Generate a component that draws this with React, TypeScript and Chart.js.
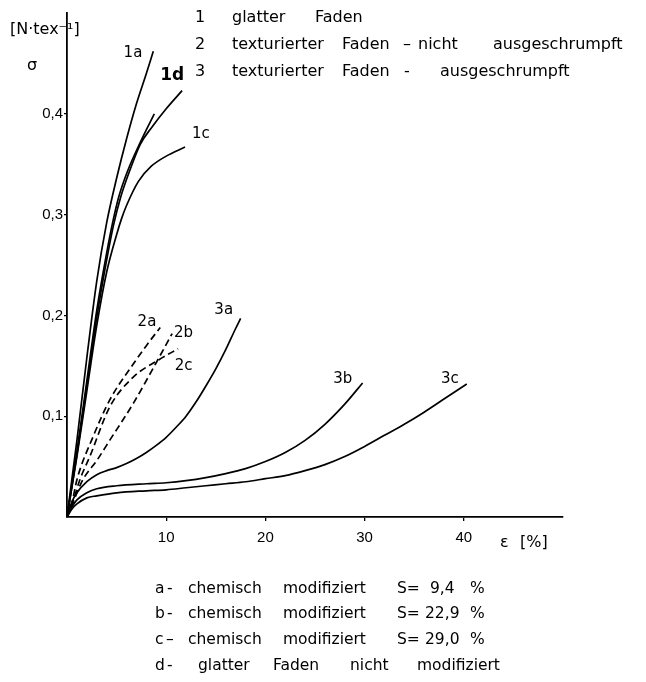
import React, { useEffect, useRef } from "react";
import { Chart, registerables } from "chart.js";

Chart.register(...registerables);

// ---- data (strain ε in %, stress σ in N·tex⁻¹) ----
const xTickValues = [10, 20, 30, 40];
const yTickValues = [0.1, 0.2, 0.3, 0.4];

const curve1a: number[][] = [[0, 0], [1, 0.076], [2, 0.158], [3, 0.234], [4, 0.292], [5, 0.336], [6, 0.375], [7, 0.41], [8, 0.44], [8.7, 0.462]];
const curve1b: number[][] = [[0, 0], [1, 0.065], [2, 0.135], [3, 0.205], [4, 0.262], [4.6, 0.292], [5.2, 0.317], [6.1, 0.343], [7.4, 0.372], [8.8, 0.4]];
const curve1d: number[][] = [[0, 0], [1, 0.062], [2, 0.13], [3, 0.198], [4, 0.255], [4.7, 0.29], [5.4, 0.317], [6.3, 0.343], [7.4, 0.37], [8.5, 0.386], [10, 0.405], [11.6, 0.423]];
const curve1c: number[][] = [[0, 0], [1, 0.06], [2, 0.125], [3, 0.19], [4, 0.243], [5, 0.28], [5.5, 0.296], [6, 0.309], [7.2, 0.333], [8.5, 0.348], [10, 0.358], [11.9, 0.367]];

const curve2a: number[][] = [[0, 0], [0.5, 0.014], [1, 0.037], [2.6, 0.079], [4.3, 0.116], [6.7, 0.152], [8, 0.17], [9.4, 0.188]];
const curve2b: number[][] = [[0, 0], [0.5, 0.012], [1.6, 0.037], [3, 0.056], [4.3, 0.076], [6.7, 0.113], [9.1, 0.155], [10.6, 0.182]];
const curve2c: number[][] = [[0, 0], [0.5, 0.012], [1.3, 0.037], [2.3, 0.06], [4.3, 0.109], [6.7, 0.139], [9.1, 0.155], [11.2, 0.167]];

const curve3a: number[][] = [[0, 0], [0.5, 0.015], [1, 0.024], [2, 0.035], [3, 0.042], [4, 0.046], [5, 0.049], [6, 0.053], [7, 0.058], [8, 0.064], [9, 0.071], [10, 0.079], [11, 0.089], [12, 0.1], [13, 0.114], [14, 0.13], [15, 0.147], [16, 0.166], [17, 0.187], [17.5, 0.197]];
const curve3b: number[][] = [[0, 0], [0.5, 0.01], [1, 0.017], [2, 0.024], [3, 0.028], [5, 0.031], [8, 0.033], [10, 0.034], [12, 0.036], [14, 0.039], [16, 0.043], [18, 0.048], [20, 0.055], [22, 0.064], [24, 0.076], [26, 0.092], [28, 0.112], [29.8, 0.133]];
const curve3c: number[][] = [[0, 0], [0.5, 0.008], [1, 0.013], [2, 0.019], [3, 0.021], [5, 0.024], [8, 0.026], [10, 0.027], [12, 0.029], [14, 0.031], [16, 0.033], [18, 0.035], [20, 0.038], [22, 0.041], [24, 0.046], [26, 0.052], [28, 0.06], [30, 0.07], [32, 0.081], [34, 0.092], [36, 0.104], [38, 0.117], [40.3, 0.132]];

const solidCurves = [curve1a, curve1b, curve1d, curve1c, curve3a, curve3b, curve3c];
const dashedCurves = [curve2a, curve2b, curve2c];

// curve labels: text and anchor in data coordinates
const curveLabelTexts = ["1a", "1d", "1c", "2a", "2b", "2c", "3a", "3b", "3c"];
const curveLabelAnchors: number[][] = [[6.65, 0.46], [10.6, 0.438], [13.5, 0.38], [8.06, 0.193], [11.75, 0.182], [11.75, 0.15], [15.8, 0.205], [27.8, 0.137], [38.6, 0.137]];

const FONT = '"DejaVu Sans", "Liberation Sans", sans-serif';
const TICK_FONT = '"Liberation Sans", "DejaVu Sans", sans-serif';

const W = 646;
const H = 682;
const AREA_LEFT = 67;
const AREA_BOTTOM = 517;

const textPlugin = {
  id: "annotText",
  afterDraw(chart: any) {
    const ctx = chart.ctx as CanvasRenderingContext2D;
    const xs = chart.scales.x;
    const ys = chart.scales.y;
    ctx.save();
    ctx.fillStyle = "#000";
    ctx.textBaseline = "middle";

    // curve labels
    curveLabelTexts.forEach((t, i) => {
      const [dx, dy] = curveLabelAnchors[i];
      const bold = t === "1d";
      ctx.font = `${bold ? "bold 17px" : "15px"} ${FONT}`;
      ctx.textAlign = "center";
      ctx.fillText(t, xs.getPixelForValue(dx), ys.getPixelForValue(dy));
    });

    // axis titles
    ctx.textAlign = "left";
    ctx.font = `16px ${FONT}`;
    ctx.fillText("[N·tex⁻¹]", 10, 30);
    ctx.fillText("σ", 27, 66);
    ctx.fillText("ε", 500, 543);
    ctx.fillText("[%]", 520, 543);

    // top legend
    const top: [string, number, number][] = [
      ["1", 195, 18], ["glatter", 232, 18], ["Faden", 315, 18],
      ["2", 195, 45], ["texturierter", 232, 45], ["Faden", 342, 45], ["–", 403, 45], ["nicht", 418, 45], ["ausgeschrumpft", 493, 45],
      ["3", 195, 72], ["texturierter", 232, 72], ["Faden", 342, 72], ["-", 404, 72], ["ausgeschrumpft", 440, 72],
    ];
    ctx.font = `16px ${FONT}`;
    top.forEach(([t, x, y]) => ctx.fillText(t, x, y));

    // bottom legend
    const bottom: [string, number, number][] = [
      ["a", 155, 589], ["-", 167, 589], ["chemisch", 188, 589], ["modifiziert", 283, 589], ["S=", 397, 589], ["9,4", 430, 589], ["%", 470, 589],
      ["b", 155, 614], ["-", 167, 614], ["chemisch", 188, 614], ["modifiziert", 283, 614], ["S=", 397, 614], ["22,9", 425, 614], ["%", 470, 614],
      ["c", 155, 640], ["–", 166, 640], ["chemisch", 188, 640], ["modifiziert", 283, 640], ["S=", 397, 640], ["29,0", 425, 640], ["%", 470, 640],
      ["d", 155, 666], ["-", 167, 666], ["glatter", 198, 666], ["Faden", 273, 666], ["nicht", 350, 666], ["modifiziert", 417, 666],
    ];
    ctx.font = `15.5px ${FONT}`;
    bottom.forEach(([t, x, y]) => ctx.fillText(t, x, y));
    ctx.restore();
  },
};

export default function App() {
  const ref = useRef<HTMLCanvasElement | null>(null);

  useEffect(() => {
    if (!ref.current) return;
    const datasets: any[] = [];
    solidCurves.forEach((c) =>
      datasets.push({
        data: c.map(([x, y]) => ({ x, y })),
        borderColor: "#000",
        borderWidth: 1.7,
        pointRadius: 0,
        cubicInterpolationMode: "monotone",
        fill: false,
      })
    );
    dashedCurves.forEach((c) =>
      datasets.push({
        data: c.map(([x, y]) => ({ x, y })),
        borderColor: "#000",
        borderWidth: 1.7,
        borderDash: [7, 4],
        pointRadius: 0,
        cubicInterpolationMode: "monotone",
        fill: false,
      })
    );

    const chart = new Chart(ref.current, {
      type: "line",
      data: { datasets },
      plugins: [textPlugin],
      options: {
        animation: false,
        responsive: false,
        layout: { padding: { top: 13, right: W - 563, left: 0, bottom: 0 } },
        plugins: { legend: { display: false }, tooltip: { enabled: false } },
        scales: {
          x: {
            type: "linear",
            min: 0,
            max: 50,
            afterBuildTicks: (s: any) => {
              s.ticks = xTickValues.map((v) => ({ value: v }));
            },
            afterFit: (s: any) => {
              s.height = H - AREA_BOTTOM;
            },
            ticks: {
              autoSkip: false,
              maxRotation: 0,
              padding: 8,
              color: "#000",
              font: { family: TICK_FONT, size: 15 },
              callback: (v: any) => String(v),
            },
            grid: { drawOnChartArea: false, tickLength: 4, color: "#000", lineWidth: 1.3 },
            border: { color: "#000", width: 1.8 },
          },
          y: {
            type: "linear",
            min: 0,
            max: 0.5,
            afterBuildTicks: (s: any) => {
              s.ticks = yTickValues.map((v) => ({ value: v }));
            },
            afterFit: (s: any) => {
              s.width = AREA_LEFT;
            },
            ticks: {
              autoSkip: false,
              padding: 1,
              color: "#000",
              font: { family: TICK_FONT, size: 15 },
              callback: (v: any) => Number(v).toFixed(1).replace(".", ","),
            },
            grid: { drawOnChartArea: false, tickLength: 3, color: "#000", lineWidth: 1.3 },
            border: { color: "#000", width: 1.8 },
          },
        },
      } as any,
    });
    return () => chart.destroy();
  }, []);

  return (
    <div style={{ position: "absolute", left: 0, top: 0, width: W, height: H, background: "#fff" }}>
      <canvas ref={ref} width={W} height={H} style={{ width: W, height: H, display: "block" }} />
    </div>
  );
}
